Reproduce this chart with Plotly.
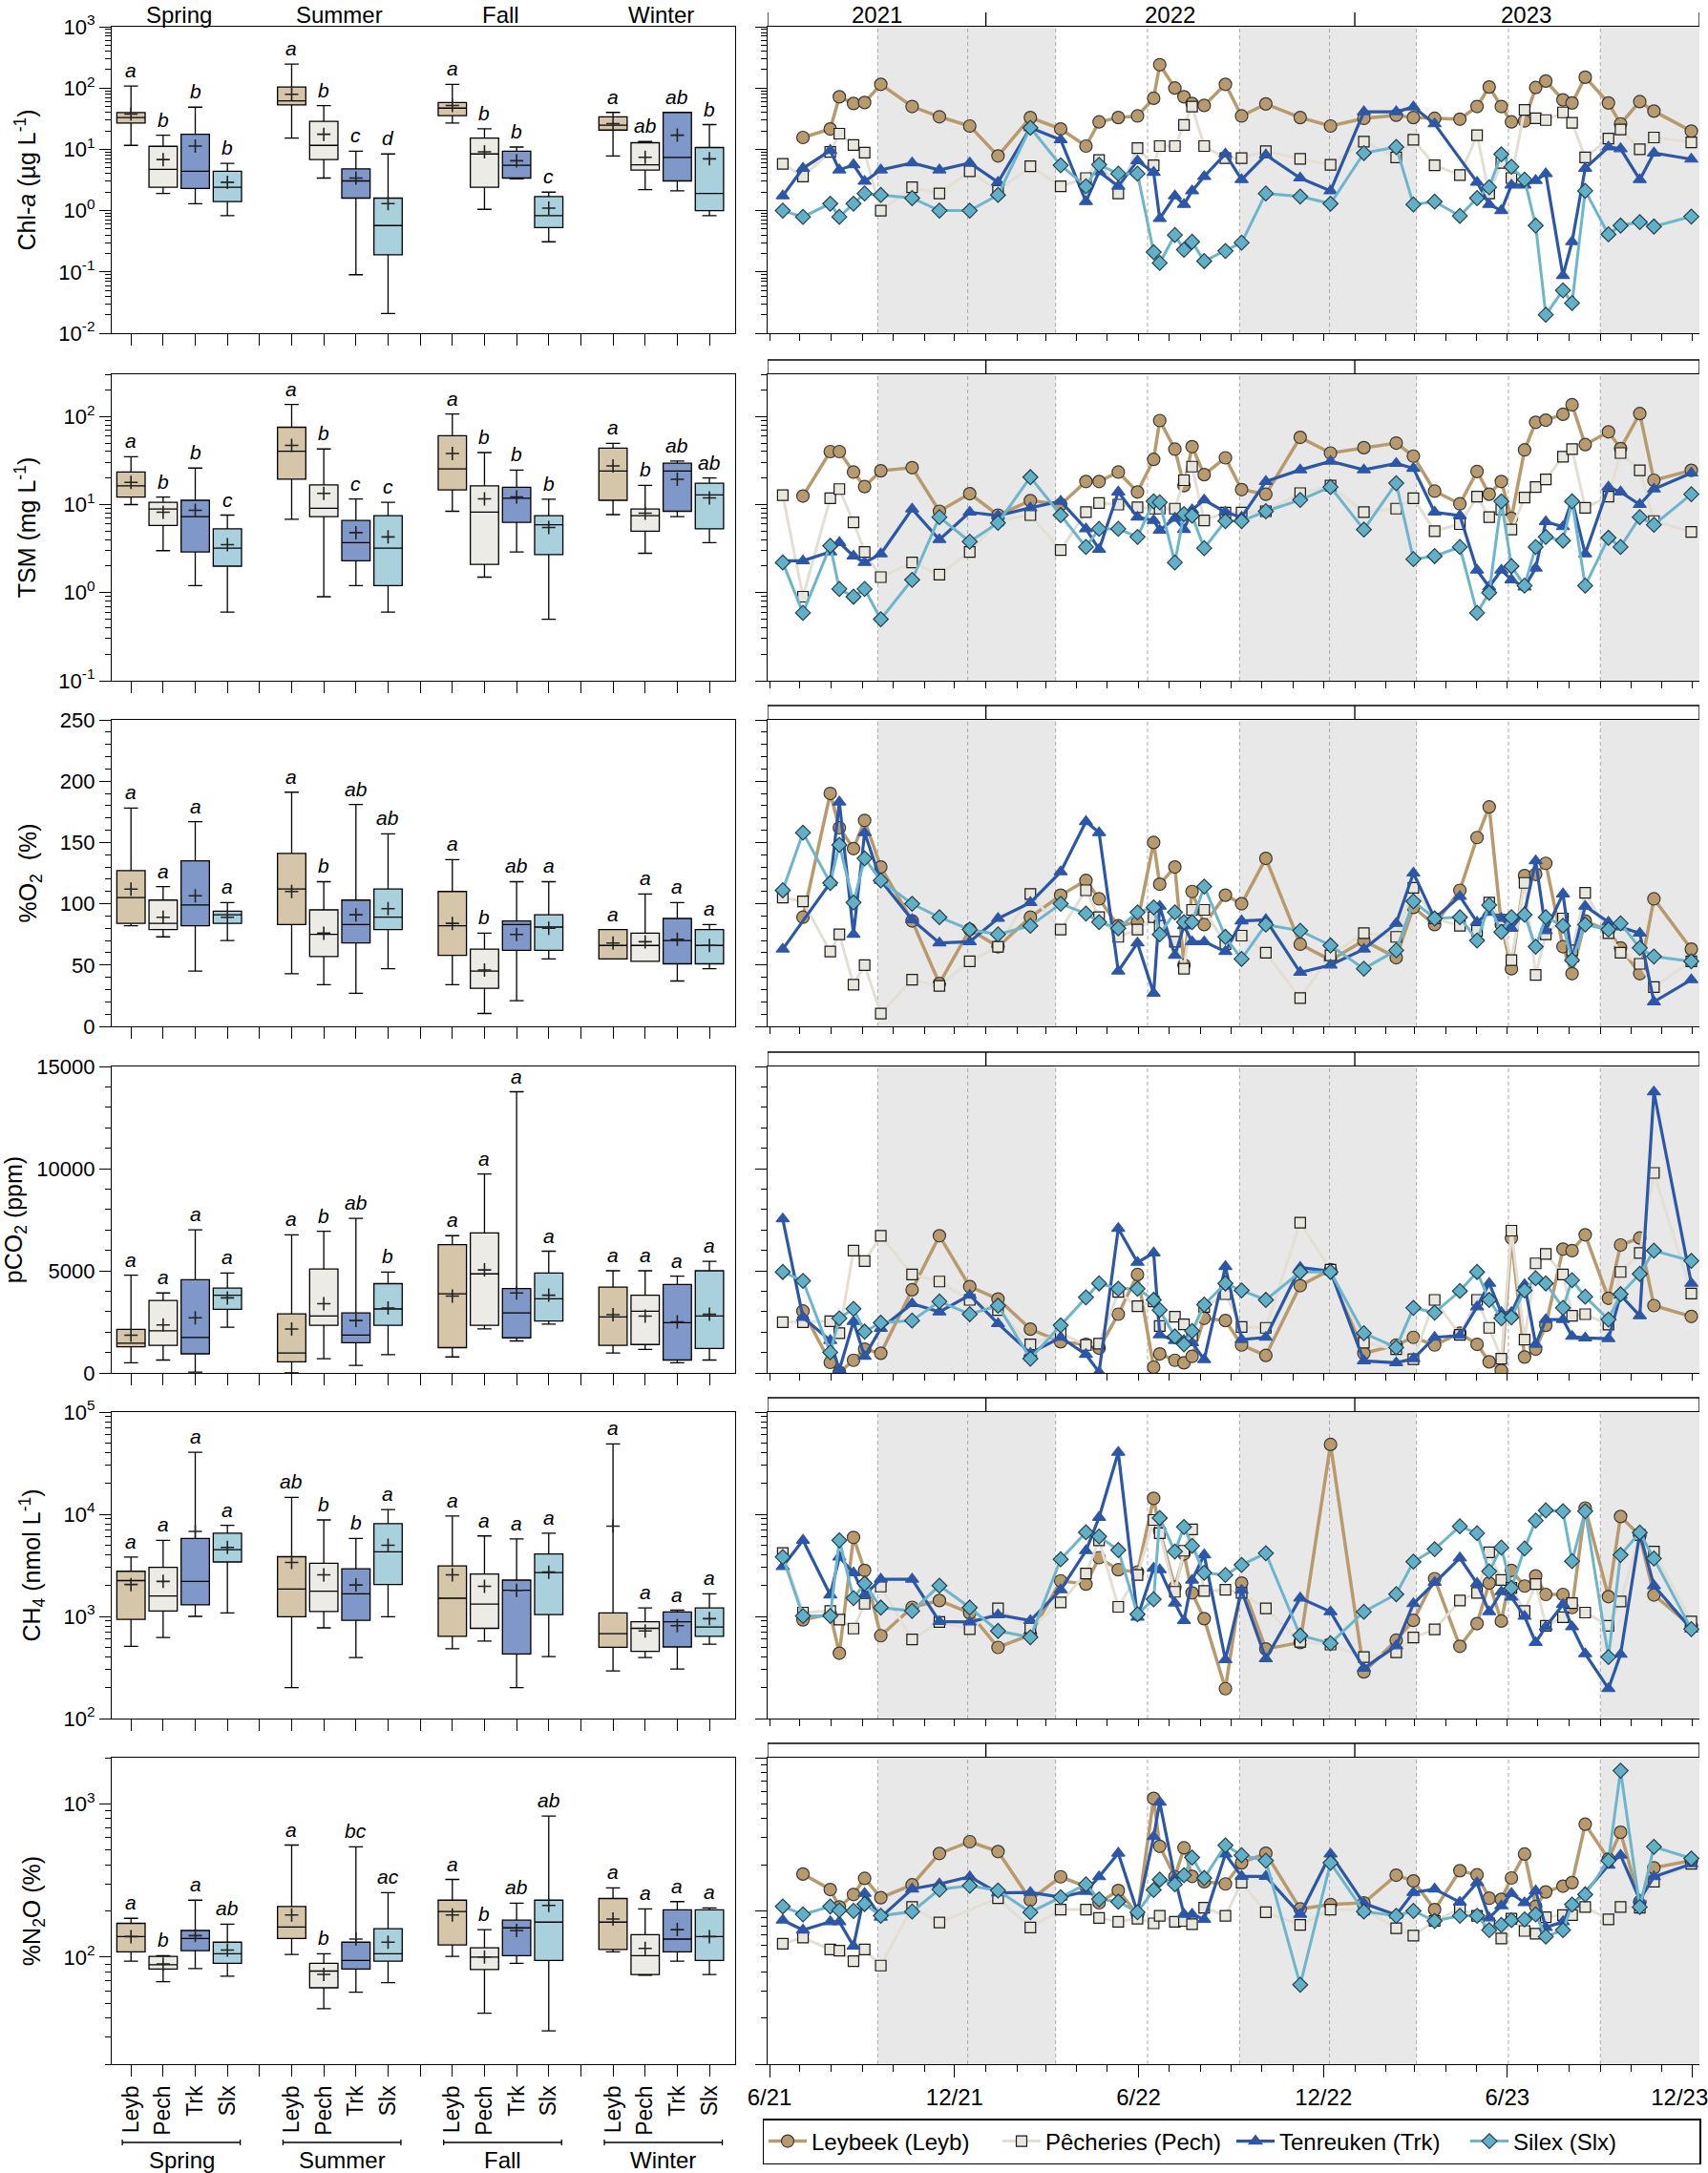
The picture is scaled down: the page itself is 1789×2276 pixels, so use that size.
import math
import plotly.graph_objects as go
from plotly.subplots import make_subplots

W, H = 1789, 2276
FONT = "Liberation Sans, Arial, sans-serif"

SITES = ["Leyb", "Pech", "Trk", "Slx"]
SITE_NAMES = ["Leybeek (Leyb)", "Pêcheries (Pech)", "Tenreuken (Trk)", "Silex (Slx)"]
SEASONS = ["Spring", "Summer", "Fall", "Winter"]
CAT_LABELS = ["Leyb", "Pech", "Trk", "Slx"]

BOX_FILL = {"Leyb": "#d5c5a9", "Pech": "#ecebe6", "Trk": "#7f98c9", "Slx": "#a9d1dd"}
LINE_COL = {"Leyb": "#b89a6c", "Pech": "#e4dfd4", "Trk": "#2c57a7", "Slx": "#6cb5cc"}
MARK_FILL = {"Leyb": "#b89a6c", "Pech": "#e9e6dd", "Trk": "#2c57a7", "Slx": "#62b0c8"}
MARK_EDGE = {"Leyb": "#3a3a3a", "Pech": "#1a1a1a", "Trk": "#2c57a7", "Slx": "#24414f"}
SYMBOL = {"Leyb": "circle", "Pech": "square", "Trk": "triangle-up", "Slx": "diamond"}
MSIZE = {"Leyb": 13, "Pech": 11, "Trk": 12, "Slx": 12}
LWIDTH = {"Leyb": 3.5, "Pech": 3, "Trk": 3.2, "Slx": 3}

# ---- sampling dates (shared by all sites) ----
DATES = ["2021-06-14", "2021-07-04", "2021-07-31", "2021-08-09", "2021-08-23", "2021-09-03",
         "2021-09-19", "2021-10-20", "2021-11-16", "2021-12-16", "2022-01-13", "2022-02-14",
         "2022-03-16", "2022-04-10", "2022-04-23", "2022-05-12", "2022-05-31", "2022-06-16",
         "2022-06-22", "2022-07-07", "2022-07-16", "2022-07-24", "2022-08-05", "2022-08-26",
         "2022-09-11", "2022-10-05", "2022-11-08", "2022-12-08", "2023-01-10", "2023-02-11",
         "2023-02-28", "2023-03-21", "2023-04-15", "2023-05-02", "2023-05-14", "2023-05-26",
         "2023-06-05", "2023-06-18", "2023-06-29", "2023-07-09", "2023-07-26", "2023-08-04",
         "2023-08-17", "2023-09-09", "2023-09-21", "2023-10-10", "2023-10-24", "2023-11-30"]

# ---- time series ----
CHLA_TS = {
    "Leyb": [None, 15.6, 21.5, 72, 56, 58, 115, 50, 34, 24, 7.8, 33, 21.5, 11.3, 28, 33, 35, 68, 240, 100,
             72, 56, 52, 115, 35, 55, 33, 24, 32, 36, 33, 32, 31, 50, 104, 50, 28, 29, 102, 130, 64, 57,
             150, 57, 26, 60, 42, 19.8],
    "Pech": [5.8, 3.6, 9.1, 18, 11.8, 8.8, 1.0, 2.4, 1.9, 4.4, 2.1, 5.3, 2.5, 3.4, 6.7, 1.9, 10.5, 5.5,
             11.3, 11.3, 25, 50, 11.3, 7.2, 7.2, 9.3, 7, 5.6, 13.3, 7.4, 14.3, 5.5, 3.8, 17, 1.9, 6, 3.4,
             44, 32, 30, 40, 27, 7.4, 15, 21, 10, 15.6, 13],
    "Trk": [1.74, 4.9, 9.6, 4.6, 5.6, 3.0, 4.6, 6.0, 4.6, 6.0, 2.9, 22.5, 14.3, 1.4, 4.3, 2.5, 6.5, 4.2,
            0.74, 1.74, 1.26, 2.1, 3.6, 8.4, 3.2, 8.1, 3.4, 2.1, 41, 41, 49, 26, None, 2.9, 1.26, 1.0,
            2.6, 2.6, 3.1, 4.0, 0.087, 0.31, 4.9, 10.9, 10.2, 3.2, 8.7, 6.9],
    "Slx": [1.0, 0.79, 1.3, 0.79, 1.3, 1.9, 1.8, 1.6, 1.0, 1.0, 1.8, 22.5, 5.5, 2.5, 5.6, 4.0, 4.0, 0.21,
            0.14, 0.40, 0.23, 0.31, 0.15, 0.22, 0.30, 1.9, 1.7, 1.3, 8.7, 10.9, 1.26, 1.4, 0.82, 1.6,
            2.4, 8.3, 5.2, 3.2, 0.57, 0.02, 0.05, 0.031, 2.1, 0.41, 0.57, 0.65, 0.55, 0.8],
}
TSM_TS = {
    "Leyb": [None, 12.5, 40, 40, 23.4, 16, 24.2, 26.3, 8.4, 13.3, 7.6, 11.1, 10, 18.3, 18.3, 23.4, 13.9,
             32.6, 90, 42.6, 16.4, 45.5, 21.9, 34, 14.8, 13.1, 58, 38.5, 44.3, 50, 35.5, 14.2, 10.2,
             23.8, 13.1, 18.3, 7.0, 41.8, 86, 91, 106, 136, 48, 67, 43.3, 108, 18.9, 24.5],
    "Pech": [12.8, 0.9, 11.8, 15.0, 6.3, 2.9, 1.5, 2.2, 1.6, 2.9, 6.6, 7.6, 3.05, 8.2, 10.4, 10, 9.3,
             9.0, 9.0, 9.0, 18.9, 27, 6.6, 8.1, 8.1, 8.4, 13.5, 16.4, 8.2, 9.0, 11.8, 5.0, 6.0, 12.3,
             7.2, 8.8, 5.2, 12.0, 15.8, 19.3, 35, 42.6, 9.2, 12.3, 38.5, 24.5, 6.5, 4.9],
    "Trk": [2.3, 2.3, 2.9, 3.7, 2.6, 2.2, 2.75, 8.9, 4.0, 8.2, 7.5, 9.2, 10.9, 5.3, 3.1, 13.9, 7.2, 6.6,
            5.1, 7.0, 5.2, 8.7, 11.3, 8.2, 7.2, 18.3, 24.8, 31, 24.8, 29.3, 25.8, 8.2, 7.5, 1.8, 1.16,
            1.8, 1.4, 1.16, 1.9, 6.4, 5.6, 11.3, 2.75, 15.8, 13.9, 10, 15, 22.8],
    "Slx": [2.2, 0.59, 3.4, 1.1, 0.9, 1.1, 0.5, 1.4, 7.2, 3.8, 6.2, 20.5, 7.6, 3.3, 5.3, 5.3, 4.3, 10.9,
            10.6, 2.2, 7.8, 7.5, 3.2, 6.5, 6.5, 8.4, 11.3, 15.8, 5.2, 17.5, 2.4, 2.6, 3.3, 0.59, 1.0,
            10.9, 2.0, 1.2, 3.3, 4.3, 3.9, 10.9, 1.2, 4.2, 3.3, 7.2, 5.9, 13.1],
}
O2_TS = {
    "Leyb": [None, 89, 190, 162, 145, 168, 130, 86, 35, 79, 65, 89, 107, 119, 104, 82, 85, 150, 116, 130,
             50, 110, 83, 107, 100, 137, 67, 54, 70, 56, 97, 83, 111, 154, 179, 83, 47, 123, 124, 133,
             65, 43, 86, 78, 64, 43, 104, 63],
    "Pech": [105, 102, 61, 75, 34, 50, 10.4, 38, 33, 53, 65, 108, 79, 111, 89, 73, 79, 89, 82, 69, 47,
             95, 95, 67, 74, 60, 23, 58, 76, 73, 113, 88, 82, 78, 101, 87, 54, 117, 42, 75, 88, 62, 109,
             76, 60, 51, 32, 53],
    "Trk": [63, None, 117, 183, 75, 158, 119, 87, 68, 69, 88, 101, 126, 167, 158, 45, 68, 27, 98, 58, 82,
            69, 69, 61, 86, 87, 44, 50, 63, 84, 125, 88, 106, 85, 93, 88, 80, 93, 135, 78, 108, 55, 98,
            85, 81, 76, 20, 38],
    "Slx": [111, 158, 117, 148, 101, 137, 119, 100, 89, 79, 75, 82, 100, 92, 85, 80, 93, 97, 75, 93, 85,
            85, 114, 73, 55, 83, 78, 66, 47, 62, 102, 88, 89, 70, 99, 77, 89, 91, 65, 89, 82, 54, 83,
            79, 84, 64, 57, 53],
}
PCO2_TS = {
    "Leyb": [None, 3030, 513, 31, 620, 1165, 963, 4070, 6713, 4227, 3620, 2144, 1523, 1400, 1212, 2875,
             4817, 280, 932, 620, 497, 808, 2673, 2564, 1367, 855, 4273, 5050, 963, 1367, 1740, 1367,
             1942, 1400, 544, 124, 6604, 777, 1165, 2331, 6060, 5983, 6760, 3652, 6262, 6604, 3294, 2766],
    "Pech": [2486, 2486, 2533, 1942, 5983, 5470, 6713, 4817, 4475, 3574, 3077, 1400, 1942, 1367, 1430,
             3963, 3263, 3497, 2300, 2750, 2378, 1834, 3232, 3854, 2253, 2207, 7350, 5050, 1476, 1165,
             668, 3574, 1865, 3574, 2207, 699, 6962, 1632, 5361, 5828, 4817, 2797, 2875, 2362, 4942,
             5874, 9790, 3885],
    "Trk": [7537, 2720, 1585, 155, 2517, 808, 2176, 3388, 2984, 3807, 2409, 963, 1740, 901, 40, 7071,
            5408, 5874, 1865, 1585, 1585, 1476, 653, 5206, 1632, 1740, 5159, 4973, 591, 497, 699, 1740,
            1834, 3232, 4382, 2953, 2953, 4320, 1400, 2611, 2611, 1787, 1709, 1678, 3807, 2797, 13753, 4382],
    "Slx": [4942, 4506, 1010, 2673, 3139, 2020, 2455, 2564, 3497, 2875, 3294, 699, 2331, 3699, 4382, 4118,
            4118, 3574, 3077, 1787, 1400, 2051, 3341, 4382, 4040, 3574, 4942, 4942, 1942, 1243, 3186,
            2953, 4009, 4942, 3574, 2673, 2720, 4040, 4631, 4382, 3186, 4538, 3730, 2611, 3854, 4848,
            5983, 5486],
}
CH4_TS = {
    "Leyb": [None, 925, 1052, 436, 5930, 2820, 647, 1227, 1430, 1080, 497, 660, 2228, 2070, 3757, 2860,
             2720, 14300, 6900, 1930, 4090, 1700, 950, 196, 2120, 480, 555, 48200, 286, 585, 914, 2340,
             510, 850, 2120, 900, 2820, 1980, 2490, 1640, 1640, 1220, 11500, 1560, 9500, 6190, 1620, 800],
    "Pech": [4180, 1090, 1130, 930, 760, 1330, 1960, 594, 880, 750, 1200, 774, 1370, 2630, 5560, 1240,
             2540, 8790, 6510, 1740, 4390, 7100, 1770, 1820, 1700, 1200, 563, 530, 400, 445, 620, 745,
             1430, 1700, 4240, 2270, 1900, 1130, 2070, 810, 980, 1350, 1090, 810, 1400, 6280, 4310, 890],
    "Trk": [3075, 5560, 1620, 3810, 2670, 1620, 2310, 2310, 890, 880, 1035, 910, 1820, 4390, 9310, 40300,
            980, 2960, 2860, 1350, 910, 2260, 4000, 376, 1800, 385, 1510, 1110, 310, 515, 1330, 2150,
            3730, 2100, 1110, 1740, 1540, 1000, 555, 790, 1310, 790, 430, 196, 425, 6510, 2000, 750],
    "Slx": [3810, 1010, 1010, 5560, 1510, 2100, 1220, 1130, 2000, 1220, 720, 625, 3620, 6650, 6060, 4460,
            1050, 1470, 9180, 4310, 7510, 4900, 2670, 2540, 3190, 4150, 650, 545, 1110, 1650, 3430, 4550,
            7620, 6510, 2760, 4720, 1900, 4620, 8670, 10900, 10700, 3470, 10700, 400, 4000, 6610, 3680, 750],
}
N2O_TS = {
    "Leyb": [None, 174, 138, 106, 128, 163, 122, 148, 237, 283, 244, 118, 167, 144, 113, 136, 95, 543,
             264, 167, 258, 168, 155, 150, 206, 238, 103, 110, 113, 171, 157, 102, 183, 172, 121, 119,
             164, 235, 107, 133, 145, 153, 368, 218, 326, 115, 191, 213],
    "Pech": [61, 67, 56, 55, 47, 56, 44, 106, 84, None, 121, 78, 102, 102, 90, 85, 89, 83, 93, 85, 86, 82,
             105, 93, 153, 98, 81, 102, 102, 77, 69, 86, 103, 93, 83, 66, 89, 74, 71, 91, 94, 94, 106,
             88, 106, 105, 155, 203],
    "Trk": [87, 75, 85, 85, 59, 130, 91, 139, 150, 167, 131, 132, 123, 134, 167, 238, 98, 305, 512, 164,
            95, 95, 88, 235, 168, 168, 95, 235, 112, 94, 132, 139, 114, 153, 90, 108, 130, 113, 135, 78,
            85, 110, 132, 199, 231, 118, 167, 203],
    "Slx": [107, 95, 107, 101, 100, 111, 93, 99, 138, 146, 136, 98, 123, 149, 119, 115, 98, 137, 160, 149,
            171, 223, 164, 268, 231, 213, 33, 206, 99, 93, 100, 86, 93, 93, 75, 81, 87, 88, 95, 68, 75,
            110, 128, 213, 823, 106, 262, 220],
}

# ---- seasonal box stats: (min, q1, median, q3, max, mean) for Spring, Summer, Fall, Winter ----
CHLA_BOX = {
    "Leyb": [(11.6, 26.8, 33, 39.8, 108, 37.5), (15.3, 53, 62, 104, 245, 79),
             (26.8, 35.4, 47, 58, 115, 52), (7.8, 20.6, 24.7, 34, 40, 26.2)],
    "Pech": [(1.9, 2.4, 4.7, 11.2, 17.0, 6.8), (3.4, 6.8, 11.6, 28.5, 51.8, 17.6),
             (1.05, 2.4, 8.4, 15.3, 21.6, 9.1), (2.2, 4.6, 5.6, 12.8, 13.4, 7.4)],
    "Trk": [(1.3, 2.3, 4.4, 17.6, 48.7, 11.3), (0.09, 1.6, 3.05, 4.8, 9.3, 3.4),
            (3.3, 3.4, 5.5, 9.3, 10.9, 6.5), (2.1, 3.05, 7.4, 40, 40, 17.0)],
    "Slx": [(0.83, 1.4, 2.4, 4.4, 5.9, 2.9), (0.021, 0.19, 0.57, 1.6, 8.4, 1.3),
            (0.31, 0.53, 0.83, 1.7, 2.0, 1.1), (0.83, 1.0, 1.9, 10.7, 25.3, 7.0)],
}
CHLA_LET = [["a", "b", "b", "b"], ["a", "b", "c", "d"], ["a", "b", "b", "c"], ["a", "ab", "ab", "b"]]

TSM_BOX = {
    "Leyb": [(10, 12.2, 16.3, 23.4, 35, 17.9), (6.8, 19.4, 40.4, 75.6, 137, 47),
             (8.4, 14.7, 25.4, 60.6, 107, 38), (7.7, 11.2, 24, 43.8, 49.7, 27.5)],
    "Pech": [(3.0, 5.8, 8.9, 10.6, 12.2, 8.2), (0.9, 7.3, 9.1, 16.7, 42.8, 13.4),
             (1.5, 2.1, 8.2, 16.3, 39, 11.6), (2.8, 5.0, 7.5, 8.9, 16.5, 8.0)],
    "Trk": [(1.2, 2.9, 7.3, 11.2, 26, 8.6), (1.2, 2.3, 3.7, 6.6, 11.6, 4.8),
            (2.9, 6.3, 11.8, 15.7, 24.7, 12.2), (7.3, 8.4, 24, 29.5, 31.3, 19.4)],
    "Slx": [(0.6, 2.0, 3.2, 5.3, 7.6, 3.5), (0.6, 1.2, 3.2, 7.5, 10.6, 4.3),
            (0.5, 2.7, 5.9, 7.5, 11.5, 5.5), (3.7, 5.3, 12.9, 17.5, 20.1, 11.9)],
}
TSM_LET = [["a", "b", "b", "c"], ["a", "b", "c", "c"], ["a", "b", "b", "b"], ["a", "b", "ab", "ab"]]

O2_BOX = {
    "Leyb": [(82, 84, 105, 127, 178, 112), (43, 83, 112, 141, 191, 110),
             (34, 58, 82, 110, 136, 84), (55, 55, 66, 79, 79, 68)],
    "Pech": [(73, 79, 84, 103, 114, 89), (34, 57, 75, 95, 118, 76),
             (10.5, 31, 45, 63, 76, 46), (53, 53, 66, 76, 108, 69)],
    "Trk": [(45, 82, 99, 135, 167, 106.5), (27, 68, 83, 103, 181, 91),
            (21, 62, 83, 86, 118, 75), (37, 51, 70, 88, 101, 71)],
    "Slx": [(70, 84, 91, 94, 101, 89), (47, 79, 89, 112, 157, 96),
            (55, 62, 81, 91, 118, 80), (47, 51, 66, 79, 83, 66)],
}
O2_LET = [["a", "a", "a", "a"], ["a", "b", "ab", "ab"], ["a", "b", "ab", "a"], ["a", "a", "a", "a"]]

PCO2_BOX = {
    "Leyb": [(500, 1283, 1457, 2130, 4783, 1848), (0, 543, 978, 2891, 6761, 2152),
             (783, 1239, 3870, 6283, 6717, 3761), (978, 1348, 2739, 4196, 5000, 2848)],
    "Pech": [(630, 1348, 2065, 3543, 3913, 2348), (696, 2326, 2783, 5087, 6935, 3391),
             (2152, 2326, 4848, 6848, 9739, 5043), (1152, 1391, 3022, 3804, 5000, 2783)],
    "Trk": [(43, 935, 1739, 4565, 7000, 2696), (370, 1478, 1848, 2935, 7565, 2565),
            (1565, 1717, 2935, 4130, 13761, 3913), (500, 630, 2457, 4326, 4739, 2500)],
    "Slx": [(2239, 3109, 3804, 4152, 4890, 3674), (891, 2326, 3130, 4370, 4935, 3174),
            (2391, 2543, 3630, 4891, 5957, 3804), (630, 1196, 2783, 5000, 5457, 2870)],
}
PCO2_LET = [["a", "a", "a", "a"], ["a", "b", "ab", "b"], ["a", "a", "a", "a"], ["a", "a", "a", "a"]]

CH4_BOX = {
    "Leyb": [(508, 933, 2240, 2765, 3800, 2050), (201, 990, 1855, 3840, 14600, 3370),
             (483, 638, 1505, 3115, 9600, 2550), (293, 498, 678, 1083, 48700, 7640)],
    "Pech": [(620, 1127, 1582, 3025, 5550, 2200), (772, 1116, 1765, 3310, 8790, 2550),
             (572, 764, 1322, 2600, 6130, 1970), (396, 455, 764, 887, 1208, 720)],
    "Trk": [(1000, 1296, 2200, 5780, 40400, 6780), (396, 914, 1662, 2930, 5780, 2030),
            (201, 429, 1800, 2265, 5720, 1800), (305, 502, 887, 1105, 1150, 811)],
    "Slx": [(1083, 3410, 4500, 6520, 7800, 4730), (990, 2050, 4290, 8100, 11100, 4970),
            (404, 1040, 2685, 4075, 6520, 2710), (534, 638, 787, 1208, 1662, 951)],
}
CH4_LET = [["a", "a", "a", "a"], ["ab", "b", "b", "a"], ["a", "a", "a", "a"], ["a", "a", "a", "a"]]

N2O_BOX = {
    "Leyb": [(94, 108, 136, 166, 179, 136), (104, 132, 157, 214, 538, 188),
             (101, 120, 198, 235, 321, 188), (108, 112, 169, 241, 283, 177)],
    "Pech": [(69, 83.5, 89, 101, 102, 90), (46, 63, 81, 91, 105, 77),
             (43, 83, 100, 115, 151, 100), (76, 77, 102, 140, 206, 114)],
    "Trk": [(84, 110, 132, 149, 235, 138), (59, 83.5, 95, 125, 524, 131),
            (91, 102, 155, 174, 225, 149), (94, 108, 131, 203, 230, 151)],
    "Slx": [(75, 91, 105, 125, 164, 111), (68, 94, 105, 153, 263, 125),
            (33, 95, 169, 235, 833, 217), (77, 95, 136, 203, 209, 136)],
}
N2O_LET = [["a", "b", "a", "ab"], ["a", "b", "bc", "ac"], ["a", "b", "ab", "ab"], ["a", "a", "a", "a"]]

PANELS = [
    dict(title="Chl-<i>a</i> (µg L<sup>-1</sup>)", log=True, lrange=[-2, 3], rrange=[-2, 3],
         box=CHLA_BOX, let=CHLA_LET, ts=CHLA_TS),
    dict(title="TSM (mg L<sup>-1</sup>)", log=True, lrange=[-1, 2.48], rrange=[-1, 2.48],
         box=TSM_BOX, let=TSM_LET, ts=TSM_TS),
    dict(title="%O<sub>2</sub>  (%)", log=False, lrange=[0, 250], rrange=[0, 250], major=50, minor=10,
         box=O2_BOX, let=O2_LET, ts=O2_TS),
    dict(title="pCO<sub>2</sub> (ppm)", log=False, lrange=[0, 15000], rrange=[0, 15000], major=5000,
         minor=1000, box=PCO2_BOX, let=PCO2_LET, ts=PCO2_TS),
    dict(title="CH<sub>4</sub> (nmol L<sup>-1</sup>)", log=True, lrange=[2, 5], rrange=[2, 5],
         box=CH4_BOX, let=CH4_LET, ts=CH4_TS),
    dict(title="%N<sub>2</sub>O (%)", log=True, lrange=[math.log10(20), math.log10(2000)], rrange=[1, 3],
         box=N2O_BOX, let=N2O_LET, ts=N2O_TS),
]

X_START, X_END = "2021-05-30", "2023-12-08"
SEASON_EDGES = ["2021-09-16", "2021-12-14", "2022-03-11", "2022-06-10", "2022-09-09",
                "2022-12-07", "2023-03-03", "2023-06-02", "2023-09-01"]
SHADED = [(SEASON_EDGES[0], SEASON_EDGES[2]), (SEASON_EDGES[4], SEASON_EDGES[6]), (SEASON_EDGES[8], X_END)]
YEAR_EDGES = [X_START, "2022-01-01", "2023-01-01", X_END]
YEAR_LABELS = [("2021", "2021-09-15"), ("2022", "2022-07-02"), ("2023", "2023-06-20")]
MAJOR_DATES = ["2021-06-01", "2021-12-01", "2022-06-01", "2022-12-01", "2023-06-01", "2023-12-01"]
MAJOR_TEXT = ["6/21", "12/21", "6/22", "12/22", "6/23", "12/23" + "&nbsp;" * 4]
MONTHS = [f"{2021 + (5 + i) // 12}-{(5 + i) % 12 + 1:02d}-01" for i in range(31)]

ROW_TOP = [28, 392, 754, 1117, 1479, 1841]
ROW_H = 321
LEFT_X = [117 / W, 770 / W]
RIGHT_X = [804 / W, 1780 / W]


def log_ticks(lo, hi):
    major = [10 ** k for k in range(math.ceil(lo - 1e-9), math.floor(hi + 1e-9) + 1)]
    minor = [m * 10 ** k for k in range(math.floor(lo) - 1, math.ceil(hi) + 1) for m in range(2, 10)
             if lo - 1e-9 <= math.log10(m * 10 ** k) <= hi + 1e-9]
    return major, minor


fig = make_subplots(rows=6, cols=2)
axis_common = dict(showline=True, linecolor="black", linewidth=1.3, showgrid=False, zeroline=False,
                   tickcolor="black", tickwidth=1.3, ticks="outside", automargin=False,
                   tickfont=dict(family=FONT, size=22, color="black"))

for r, p in enumerate(PANELS, start=1):
    top = ROW_TOP[r - 1]
    ydom = [1 - (top + ROW_H) / H, 1 - top / H]
    xl, xr = f"x{2 * r - 1}", f"x{2 * r}"
    yl, yr = f"y{2 * r - 1}", f"y{2 * r}"

    # ---- left: seasonal boxes ----
    for si, site in enumerate(SITES):
        st = p["box"][site]
        xs = [s * 5 + si for s in range(4)]
        fig.add_trace(go.Box(
            x=xs, lowerfence=[v[0] for v in st], q1=[v[1] for v in st], median=[v[2] for v in st],
            q3=[v[3] for v in st], upperfence=[v[4] for v in st], width=0.88, whiskerwidth=0.5,
            fillcolor=BOX_FILL[site], line=dict(color="black", width=1.3), boxpoints=False,
            showlegend=False, hoverinfo="skip"), row=r, col=1)
        fig.add_trace(go.Scatter(
            x=xs, y=[v[5] for v in st], mode="markers", showlegend=False, hoverinfo="skip",
            marker=dict(symbol="cross-thin", size=10, line=dict(color="#222", width=1.6))), row=r, col=1)
        for s in range(4):
            hi = st[s][4]
            fig.add_annotation(x=s * 5 + si, y=math.log10(hi) if p["log"] else hi, xref=xl, yref=yl,
                               text=f"<i>{p['let'][s][si]}</i>", showarrow=False, yanchor="bottom",
                               yshift=3, font=dict(family=FONT, size=21, color="black"))

    # ---- right: time series ----
    for si, site in enumerate(SITES):
        fig.add_trace(go.Scatter(
            x=DATES, y=p["ts"][site], mode="lines+markers", connectgaps=True, name=SITE_NAMES[si],
            showlegend=(r == 6), legendrank=si + 1, hoverinfo="skip",
            line=dict(color=LINE_COL[site], width=LWIDTH[site]),
            marker=dict(symbol=SYMBOL[site], size=MSIZE[site], color=MARK_FILL[site],
                        line=dict(color=MARK_EDGE[site], width=1.2))), row=r, col=2)

    for x0, x1 in SHADED:
        fig.add_shape(type="rect", xref=xr, yref=f"{yr} domain", x0=x0, x1=x1, y0=0, y1=1,
                      fillcolor="#e8e8e8", line_width=0, layer="below")
    for d in SEASON_EDGES:
        fig.add_shape(type="line", xref=xr, yref=f"{yr} domain", x0=d, x1=d, y0=0, y1=1,
                      line=dict(color="#a8a8a8", width=1, dash="4px,3px"), layer="below")
    gap = 15 / ROW_H
    if r == 1:
        for d in YEAR_EDGES:
            fig.add_shape(type="line", xref=xr, yref=f"{yr} domain", x0=d, x1=d, y0=1, y1=1 + gap,
                          line=dict(color="black", width=1.3))
        for txt, d in YEAR_LABELS:
            fig.add_annotation(x=d, y=1, xref=xr, yref="paper", text=txt, showarrow=False,
                               yanchor="top", yshift=0, font=dict(family=FONT, size=24, color="black"))
    else:
        fig.add_shape(type="line", xref=xr, yref=f"{yr} domain", x0=X_START, x1=X_END, y0=1 + gap,
                      y1=1 + gap, line=dict(color="black", width=1.3))
        for d in YEAR_EDGES:
            fig.add_shape(type="line", xref=xr, yref=f"{yr} domain", x0=d, x1=d, y0=1, y1=1 + gap,
                          line=dict(color="black", width=1.3))

    # ---- axes ----
    if p["log"]:
        majl, minl = log_ticks(*p["lrange"])
        majr, minr = log_ticks(*p["rrange"])
        txtl = [f"10<sup>{int(round(math.log10(v)))}</sup>" for v in majl]
        ytype = "log"
    else:
        majl = majr = list(range(0, int(p["lrange"][1]) + 1, p["major"]))
        minl = minr = [v for v in range(0, int(p["lrange"][1]) + 1, p["minor"]) if v % p["major"]]
        txtl = [str(v) for v in majl]
        ytype = "linear"

    fig.update_yaxes(axis_common, type=ytype, range=p["lrange"], domain=ydom, mirror=True,
                     tickmode="array", tickvals=majl, ticktext=txtl, ticklen=12,
                     minor=dict(tickmode="array", tickvals=minl, ticks="outside", ticklen=6,
                                tickcolor="black", tickwidth=1.2),
                     title=dict(text=p["title"], standoff=16,
                                font=dict(family=FONT, size=25, color="black")),
                     row=r, col=1)
    fig.update_yaxes(axis_common, type=ytype, range=p["rrange"], domain=ydom, showticklabels=False,
                     tickmode="array", tickvals=majr, ticklen=12,
                     minor=dict(tickmode="array", tickvals=minr, ticks="outside", ticklen=6,
                                tickcolor="black", tickwidth=1.2),
                     row=r, col=2)

    cat_pos = list(range(19))
    cat_txt = [(CAT_LABELS + [""])[i % 5] for i in cat_pos]
    fig.update_xaxes(axis_common, range=[-0.6, 18.8], domain=LEFT_X, mirror=True, tickmode="array",
                     tickvals=cat_pos, ticktext=cat_txt if r == 6 else [""] * 19, ticklen=12,
                     tickangle=-90, tickfont=dict(family=FONT, size=23, color="black"), row=r, col=1)
    fig.update_xaxes(axis_common, type="date", range=[X_START, X_END], domain=RIGHT_X, mirror=True,
                     tickmode="array", tickvals=MAJOR_DATES,
                     ticktext=MAJOR_TEXT if r == 6 else [""] * 6, ticklen=13,
                     ticklabeloverflow="allow",
                     tickfont=dict(family=FONT, size=24, color="black"),
                     minor=dict(tickmode="array", tickvals=MONTHS, ticks="outside", ticklen=7,
                                tickcolor="black", tickwidth=1.2),
                     row=r, col=2)

# season labels above the first row and brackets under the last row
for s, name in enumerate(SEASONS):
    fig.add_annotation(x=s * 5 + 1.5, y=1, xref="x1", yref="paper", text=name,
                       showarrow=False, yanchor="top", yshift=0,
                       font=dict(family=FONT, size=24, color="black"))
    x0, x1 = s * 5 - 0.27, s * 5 + 3.4
    yb = 1 - 2244 / H
    fig.add_shape(type="line", xref="x11", yref="paper", x0=x0, x1=x1, y0=yb, y1=yb,
                  line=dict(color="black", width=1.3))
    for xe in (x0, x1):
        fig.add_shape(type="line", xref="x11", yref="paper", x0=xe, x1=xe, y0=yb - 3 / H, y1=yb + 3 / H,
                      line=dict(color="black", width=1.3))
    fig.add_annotation(x=s * 5 + 1.57, y=1 - 2262 / H, xref="x11", yref="paper", text=name,
                       showarrow=False, yanchor="middle", font=dict(family=FONT, size=24, color="black"))

fig.update_layout(
    width=W, height=H, margin=dict(l=0, r=0, t=0, b=0, autoexpand=False),
    paper_bgcolor="white", plot_bgcolor="white", boxmode="overlay",
    font=dict(family=FONT, size=22, color="black"),
    legend=dict(orientation="h", x=1290 / W, xanchor="center", y=1 - 2243 / H,
                yanchor="middle", bordercolor="black", borderwidth=1.5, bgcolor="white",
                font=dict(family=FONT, size=24, color="black"), entrywidth=190, itemwidth=40,
                traceorder="normal"),
)

fig.write_html("out.html", config={"displayModeBar": False},
               post_script="document.body.style.margin='0';document.body.style.overflow='hidden';")
